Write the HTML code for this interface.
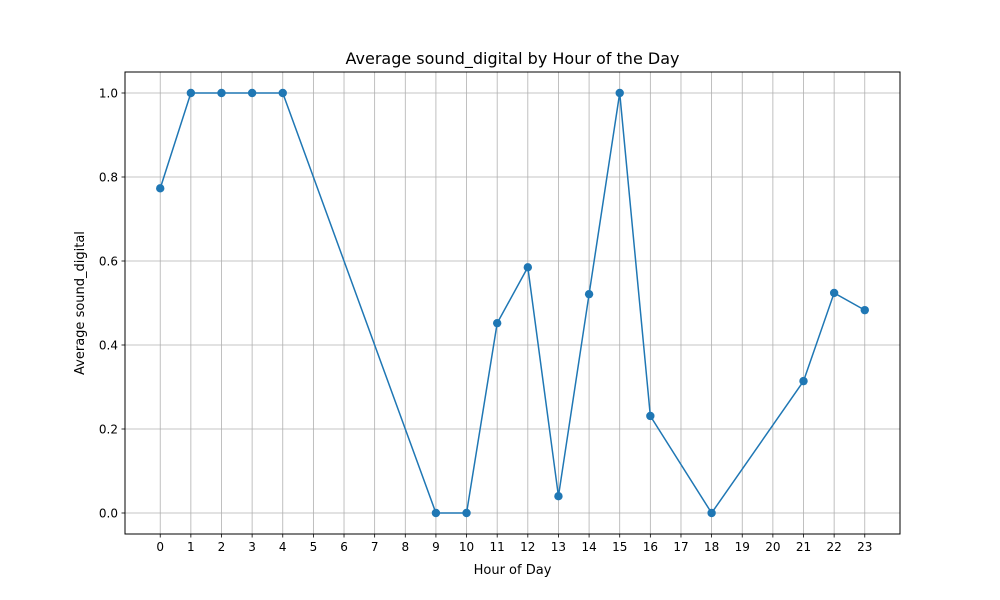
<!DOCTYPE html>
<html><head><meta charset="utf-8"><style>body{margin:0;background:#fff}svg{display:block;font-family:"DejaVu Sans","Liberation Sans",sans-serif}</style></head>
<body>
<svg id="chart" width="1000" height="600">
<rect x="0" y="0" width="1000" height="600" fill="#fff"/>
<g id="grid"></g>
<g id="ticks"></g>
<g id="series"></g>
<rect x="125" y="72" width="775" height="462" fill="none" stroke="#000" stroke-width="1"/>
<text x="512.5" y="64" text-anchor="middle" font-size="16">Average sound_digital by Hour of the Day</text>
<text x="512.5" y="574" text-anchor="middle" font-size="13">Hour of Day</text>
<text x="84" y="303" text-anchor="middle" font-size="13" transform="rotate(-90 84 303)">Average sound_digital</text>
</svg>
<script>
const hours = [0,1,2,3,4,9,10,11,12,13,14,15,16,18,21,22,23];
const values = [0.773,1,1,1,1,0,0,0.452,0.585,0.04,0.521,1,0.231,0,0.314,0.524,0.483];
const xTicks = [0,1,2,3,4,5,6,7,8,9,10,11,12,13,14,15,16,17,18,19,20,21,22,23];
const yTicks = [0.0,0.2,0.4,0.6,0.8,1.0];
const NS="http://www.w3.org/2000/svg";
const L=125,R=900,T=72,B=534;
const xmin=-1.15,xmax=24.15,ymin=-0.05,ymax=1.05;
const xs=v=>L+(v-xmin)/(xmax-xmin)*(R-L);
const ys=v=>B-(v-ymin)/(ymax-ymin)*(B-T);
function mk(tag,attrs,parent){const e=document.createElementNS(NS,tag);for(const k in attrs)e.setAttribute(k,attrs[k]);parent.appendChild(e);return e;}
const grid=document.getElementById('grid'),ticks=document.getElementById('ticks'),series=document.getElementById('series');
xTicks.forEach(t=>{const x=xs(t);
 const g=mk('line',{x1:x,x2:x,y1:T,y2:B,stroke:'#b0b0b0','stroke-width':0.8},grid);
 
 
 const tk=mk('line',{x1:x,x2:x,y1:B,y2:B+3.5,stroke:'#000','stroke-width':0.8},ticks);
 
 
 const tx=mk('text',{x:x,y:B+17,'text-anchor':'middle','font-size':12},ticks);tx.textContent=t;
 
 
});
yTicks.forEach(t=>{const y=ys(t);
 const g=mk('line',{x1:L,x2:R,y1:y,y2:y,stroke:'#b0b0b0','stroke-width':0.8},grid);
 
 
 const tk=mk('line',{x1:L-3.5,x2:L,y1:y,y2:y,stroke:'#000','stroke-width':0.8},ticks);
 
 
 const tx=mk('text',{x:L-7,y:y+4.5,'text-anchor':'end','font-size':12},ticks);tx.textContent=t.toFixed(1);
 
 
});
const pts=hours.map((h,i)=>xs(h)+','+ys(values[i])).join(' ');
const line=mk('polyline',{points:pts,fill:'none',stroke:'#1f77b4','stroke-width':1.5},series);


hours.forEach((h,i)=>{const c=mk('circle',{cx:xs(h),cy:ys(values[i]),r:4.2,fill:'#1f77b4'},series);
 
 
});
</script>
</body></html>
